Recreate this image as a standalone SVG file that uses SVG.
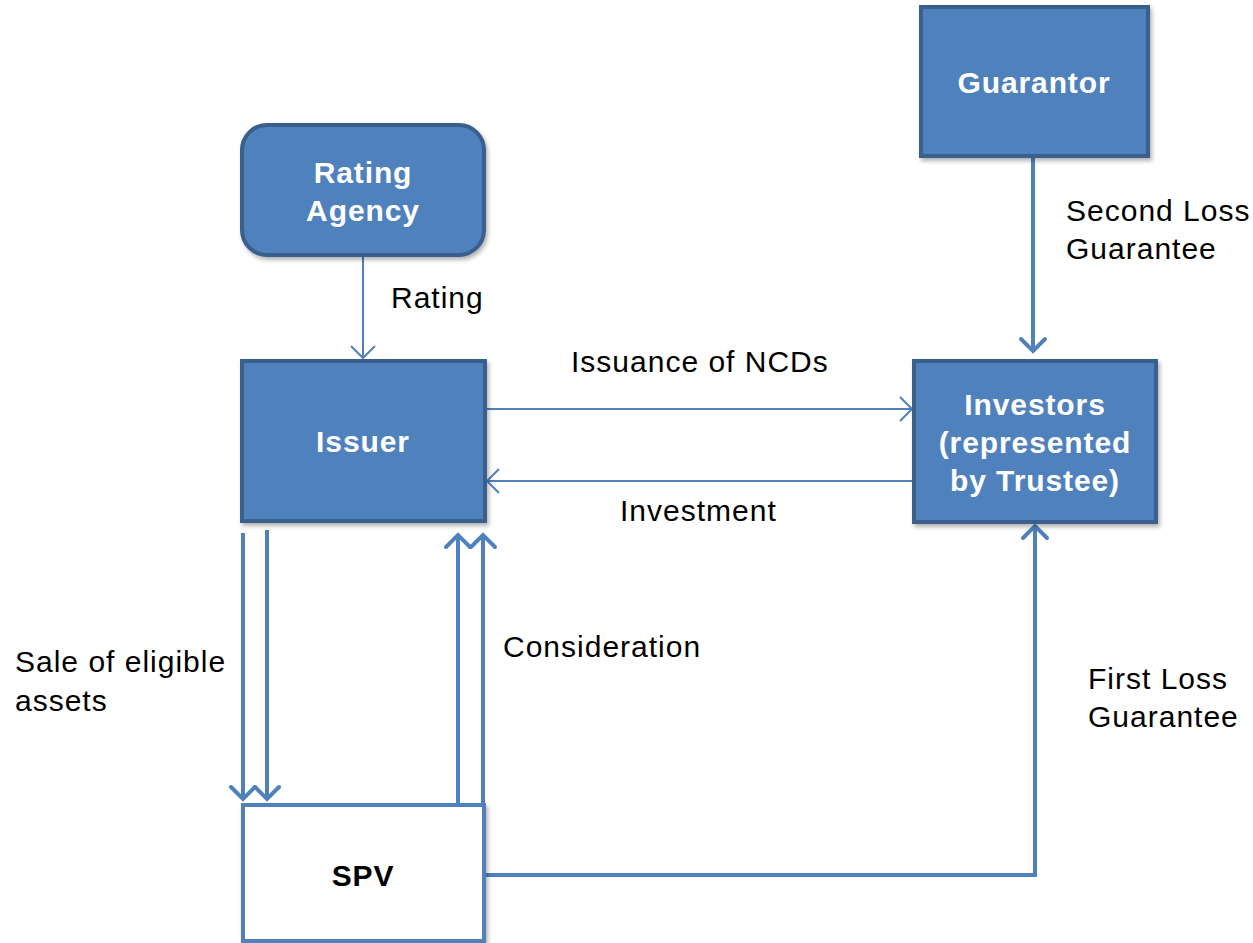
<svg xmlns="http://www.w3.org/2000/svg" width="1253" height="943" viewBox="0 0 1253 943">
<style>
.node{fill:#4F81BD;stroke:#3A5F8C;stroke-width:4}
.spv{fill:#FFFFFF;stroke:#4F81BD;stroke-width:4}
.nt{font-family:"Liberation Sans",Arial,sans-serif;font-weight:bold;font-size:30px;letter-spacing:0.9px;fill:#FFFFFF;text-anchor:middle}
.lbl{font-family:"Liberation Sans",Arial,sans-serif;font-size:30px;letter-spacing:1px;fill:#000000}
.thin{stroke:#4F81BD;stroke-width:2;fill:none}
.thick{stroke:#4F81BD;stroke-width:4;fill:none}
</style>
<defs>
<filter id="sh" x="-10%" y="-10%" width="130%" height="130%">
<feDropShadow dx="2" dy="3" stdDeviation="2" flood-color="#000" flood-opacity="0.3"/>
</filter>
<marker id="ah" markerUnits="userSpaceOnUse" markerWidth="30" markerHeight="30" refX="15" refY="15" orient="auto">
<path d="M3,3 L15,15 L3,27" fill="none" stroke="#4F81BD" stroke-width="2"/>
</marker>
<marker id="ahk" markerUnits="userSpaceOnUse" markerWidth="30" markerHeight="30" refX="15" refY="15" orient="auto">
<path d="M3,3 L15,15 L3,27" fill="none" stroke="#4F81BD" stroke-width="4" stroke-linecap="round"/>
</marker>
</defs>
<g id="connectors">
<line class="thin" x1="363" y1="256" x2="363" y2="358" marker-end="url(#ah)"/>
<line class="thin" x1="486" y1="409" x2="912" y2="409" marker-end="url(#ah)"/>
<line class="thin" x1="912" y1="481" x2="487" y2="481" marker-end="url(#ah)"/>
<line class="thick" x1="1033" y1="156" x2="1033" y2="351" marker-end="url(#ahk)"/>
<line class="thick" x1="243" y1="533" x2="243" y2="799" marker-end="url(#ahk)"/>
<line class="thick" x1="267" y1="530" x2="267" y2="799" marker-end="url(#ahk)"/>
<line class="thick" x1="458" y1="805" x2="458" y2="535" marker-end="url(#ahk)"/>
<line class="thick" x1="483" y1="805" x2="483" y2="535" marker-end="url(#ahk)"/>
<polyline class="thick" points="484,875 1035,875 1035,526" marker-end="url(#ahk)"/>
</g>
<g id="rating-agency">
<rect class="node" x="242" y="125" width="242" height="130" rx="25" filter="url(#sh)"/>
<text class="nt" x="363" y="183">Rating</text>
<text class="nt" x="363" y="221">Agency</text>
</g>
<g id="issuer">
<rect class="node" x="242" y="361" width="243" height="160" filter="url(#sh)"/>
<text class="nt" x="363" y="452">Issuer</text>
</g>
<g id="guarantor">
<rect class="node" x="921" y="7" width="227" height="149" filter="url(#sh)"/>
<text class="nt" x="1034" y="93">Guarantor</text>
</g>
<g id="investors">
<rect class="node" x="914" y="361" width="242" height="161" filter="url(#sh)"/>
<text class="nt" x="1035" y="415">Investors</text>
<text class="nt" x="1035" y="453">(represented</text>
<text class="nt" x="1035" y="491">by Trustee)</text>
</g>
<g id="spv">
<rect class="spv" x="243" y="805" width="241" height="136" filter="url(#sh)"/>
<text class="nt" x="363" y="886" style="fill:#000000">SPV</text>
</g>
<g id="labels">
<text class="lbl" x="391" y="308">Rating</text>
<text class="lbl" x="571" y="372">Issuance of NCDs</text>
<text class="lbl" x="620" y="521">Investment</text>
<text class="lbl" x="503" y="657">Consideration</text>
<text class="lbl" x="15" y="672">Sale of eligible</text>
<text class="lbl" x="15" y="711">assets</text>
<text class="lbl" x="1088" y="689">First Loss</text>
<text class="lbl" x="1088" y="727">Guarantee</text>
<text class="lbl" x="1066" y="221">Second Loss</text>
<text class="lbl" x="1066" y="259">Guarantee</text>
</g>
</svg>
